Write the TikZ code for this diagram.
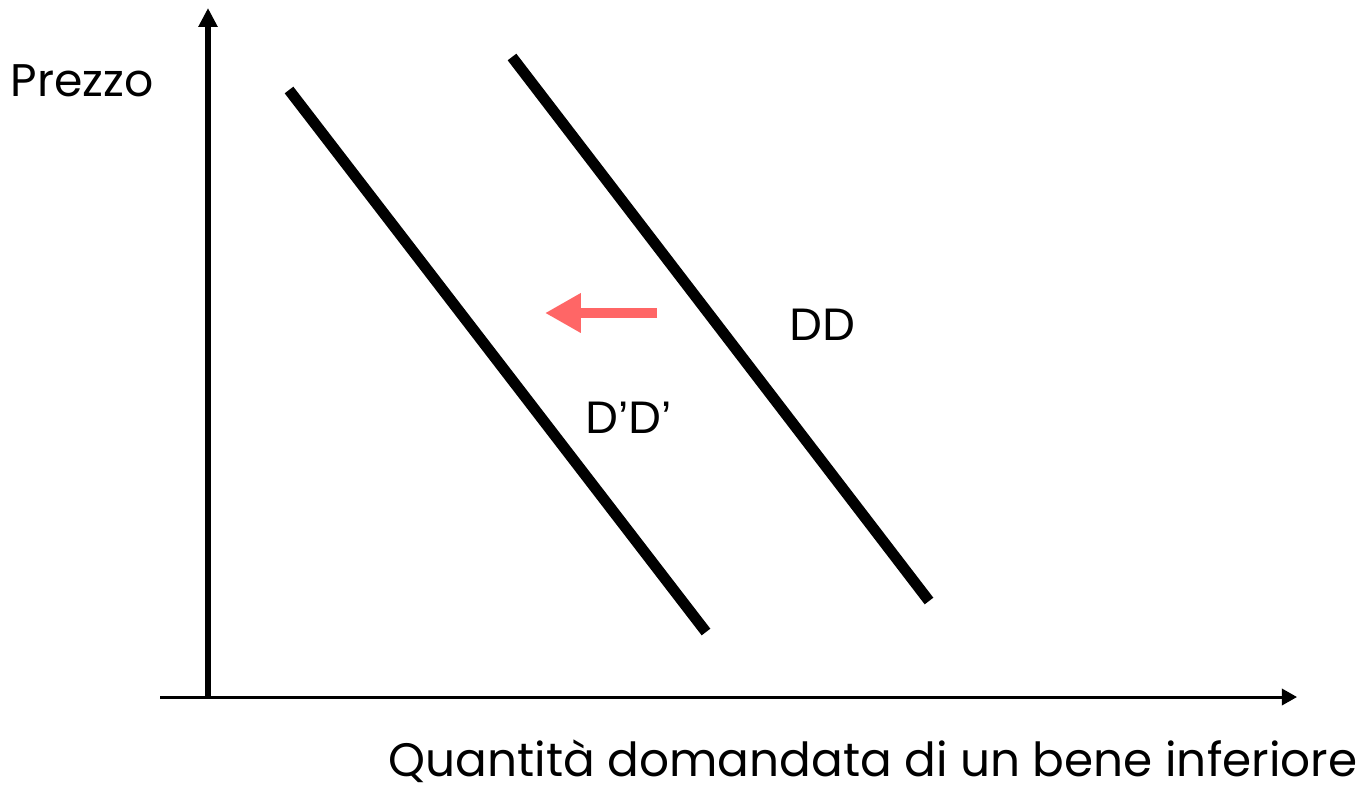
\documentclass[tikz,border=0pt]{standalone}
\usepackage{fontspec}
\setmainfont{Poppins}
\newfontfamily\labelfont{Liberation Sans}
\usetikzlibrary{arrows.meta}

\begin{document}
\begin{tikzpicture}[x=0.01cm, y=-0.01cm,
    assey/.style={line width=1.7pt, -{Triangle[length=5.4pt, width=5.2pt]}},
    assex/.style={line width=0.85pt, -{Triangle[length=4.3pt, width=4.6pt]}},
    curva/.style={line width=3.1pt},
    spostamento/.style={color=red!60, line width=3.1pt, -{Triangle[length=10.2pt, width=10.6pt]}},
    etichetta/.style={font=\labelfont\fontsize{13}{15}\selectfont, inner sep=0pt}]
    % Margini
    \useasboundingbox (0,0) rectangle (1368,791);

    % Assi
    \coordinate (origY) at (208,697);
    \coordinate (cimaY) at (208,8);
    \coordinate (origX) at (160,697);
    \coordinate (fineX) at (1297,697);
    \draw[assey] (origY) -- (cimaY);
    \draw[assex] (origX) -- (fineX);

    % Curve di domanda
    \coordinate (Dp1) at (289,90);
    \coordinate (Dp2) at (706,632);
    \coordinate (D1) at (512,57);
    \coordinate (D2) at (929,601);
    \draw[curva] (Dp1) -- (Dp2);
    \draw[curva] (D1) -- (D2);

    % Freccia rossa
    \coordinate (frInizio) at (657,313);
    \coordinate (frFine) at (545,313);
    \draw[spostamento] (frInizio) -- (frFine);

    % Etichette
    \node[etichetta, anchor=base west] (dd) at (789,340) {DD};
    \node[etichetta, anchor=base west] (ddp) at (585,433) {D’D’};
    \node[font=\fontsize{13}{15}\selectfont, inner sep=0pt, anchor=base west] (prezzo) at (10,97) {Prezzo};
    \node[font=\fontsize{13.35}{15}\selectfont, inner sep=0pt, anchor=base east] (quantita) at (1358,776) {Quantità domandata di un bene inferiore};
\end{tikzpicture}
\end{document}
